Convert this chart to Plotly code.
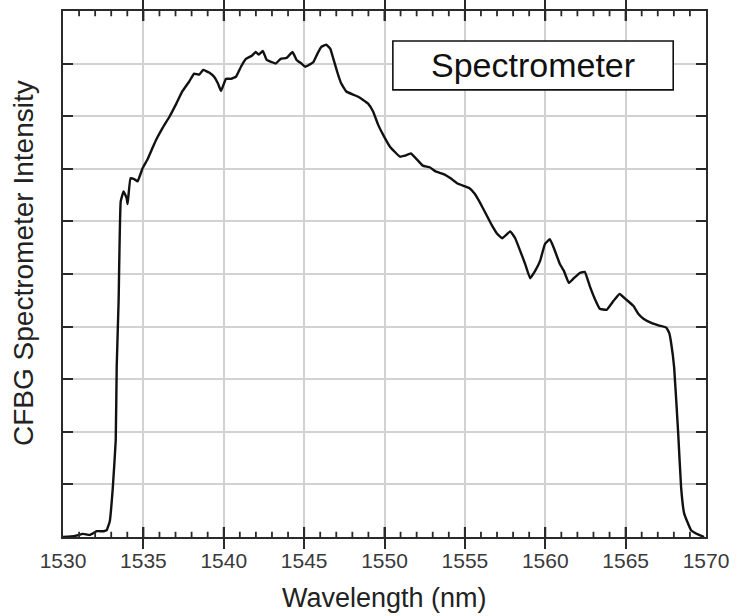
import plotly.graph_objects as go

# Spectrum traced from the chirped FBG reflection measured on the spectrometer
wavelength_nm = [
    1530.0, 1530.74, 1531.24, 1531.67, 1532.10, 1532.53, 1532.72, 1532.91, 1533.09, 1533.28,
    1533.34, 1533.46, 1533.59, 1533.77, 1533.96, 1534.02, 1534.20, 1534.45, 1534.64, 1534.95,
    1535.26, 1535.56, 1535.81, 1536.18, 1536.62, 1537.05, 1537.42, 1537.85, 1538.16, 1538.47,
    1538.72, 1539.09, 1539.40, 1539.64, 1539.83, 1540.14, 1540.45, 1540.76, 1541.07, 1541.38,
    1541.75, 1541.99, 1542.18, 1542.43, 1542.67, 1542.98, 1543.23, 1543.54, 1543.91, 1544.28,
    1544.53, 1544.84, 1545.08, 1545.33, 1545.58, 1545.83, 1546.07, 1546.38, 1546.63, 1546.82,
    1547.06, 1547.31, 1547.62, 1548.05, 1548.36, 1548.67, 1548.98, 1549.29, 1549.60, 1549.91,
    1550.34, 1550.96, 1551.27, 1551.64, 1551.95, 1552.38, 1552.81, 1553.18, 1553.74, 1554.11,
    1554.54, 1554.98, 1555.29, 1555.60, 1555.90, 1556.28, 1556.71, 1557.02, 1557.33, 1557.82,
    1558.13, 1558.44, 1558.75, 1559.06, 1559.37, 1559.68, 1559.98, 1560.29, 1560.54, 1560.91,
    1561.16, 1561.47, 1561.78, 1562.15, 1562.46, 1562.77, 1563.08, 1563.39, 1563.82, 1564.25,
    1564.62, 1565.05, 1565.49, 1565.80, 1566.11, 1566.60, 1567.09, 1567.53, 1567.71, 1567.84,
    1568.02, 1568.27, 1568.45, 1568.64, 1569.07, 1569.57, 1569.88,
]
intensity = [
    0.00, 0.02, 0.06, 0.04, 0.11, 0.11, 0.13, 0.30, 0.90, 1.84,
    3.22, 4.49, 6.38, 6.57, 6.44, 6.33, 6.82, 6.80, 6.76, 7.01,
    7.18, 7.39, 7.56, 7.77, 7.99, 8.24, 8.47, 8.66, 8.81, 8.79,
    8.88, 8.83, 8.75, 8.62, 8.48, 8.71, 8.71, 8.75, 8.94, 9.09,
    9.15, 9.22, 9.17, 9.24, 9.07, 9.03, 9.00, 9.09, 9.11, 9.22,
    9.07, 9.00, 8.94, 8.98, 9.03, 9.19, 9.32, 9.36, 9.28, 9.09,
    8.84, 8.62, 8.47, 8.41, 8.37, 8.31, 8.24, 8.09, 7.84, 7.65,
    7.42, 7.23, 7.25, 7.29, 7.20, 7.06, 7.03, 6.95, 6.89, 6.82,
    6.72, 6.67, 6.63, 6.53, 6.38, 6.16, 5.91, 5.76, 5.68, 5.81,
    5.68, 5.44, 5.19, 4.92, 5.06, 5.25, 5.57, 5.66, 5.49, 5.19,
    5.06, 4.83, 4.92, 5.02, 5.04, 4.77, 4.53, 4.34, 4.32, 4.49,
    4.62, 4.51, 4.39, 4.24, 4.15, 4.07, 4.02, 3.98, 3.88, 3.67,
    3.22, 1.97, 0.95, 0.45, 0.13, 0.04, 0.00,
]

x_ticks = [1530, 1535, 1540, 1545, 1550, 1555, 1560, 1565, 1570]
x_minor_ticks = [w for w in range(1530, 1571) if w % 5 != 0]
y_ticks = [0, 1, 2, 3, 4, 5, 6, 7, 8, 9, 10]
legend_label = "Spectrometer"
x_title = "Wavelength (nm)"
y_title = "CFBG Spectrometer Intensity"

FONT = "Liberation Sans, Arial, sans-serif"
GRID = "#d2d2d2"
FRAME = "#2a2a2a"
TICK = "#2a2a2a"
Y_MIN, Y_MAX = 0, 10

fig = go.Figure()
fig.add_trace(go.Scatter(
    x=wavelength_nm, y=intensity, mode="lines",
    line=dict(color="#111111", width=2.4, shape="spline", smoothing=0.3),
    showlegend=False,
))
# invisible companion trace carrying the right-hand tick axis
fig.add_trace(go.Scatter(
    x=[wavelength_nm[0]], y=[intensity[0]], yaxis="y2",
    mode="lines", line=dict(width=0), hoverinfo="skip", showlegend=False,
))

y_tick_style = dict(
    range=[Y_MIN, Y_MAX], tickmode="array", tickvals=y_ticks,
    ticks="inside", ticklen=10, tickwidth=2, tickcolor=FRAME,
    showticklabels=False, zeroline=False,
)

fig.update_layout(
    width=738, height=616,
    margin=dict(l=63, r=28, t=9, b=79),
    paper_bgcolor="white", plot_bgcolor="white",
    font=dict(family=FONT, color="#333333"),
    xaxis=dict(
        range=[1530, 1570], tickmode="array", tickvals=x_ticks,
        ticktext=[str(t) for t in x_ticks],
        ticks="inside", ticklen=10, tickwidth=2, tickcolor=TICK,
        ticklabelstandoff=4,
        showgrid=True, gridcolor=GRID, gridwidth=1.6,
        showline=True, linecolor=FRAME, linewidth=2, mirror="allticks",
        tickfont=dict(size=21, color="#3a3a3a"), zeroline=False,
    ),
    yaxis=dict(
        **y_tick_style,
        showgrid=True, gridcolor=GRID, gridwidth=1.6,
        showline=True, linecolor=FRAME, linewidth=2, mirror="allticks",
    ),
    yaxis2=dict(
        **y_tick_style, overlaying="y", side="right", anchor="x",
        showgrid=False, showline=False,
    ),
)

# inward wavelength tick marks along the bottom and top edges (in axis units)
def x_tick_marks(values, frac, width):
    span = (Y_MAX - Y_MIN) * frac
    for v in values:
        for base, tip in ((Y_MIN, Y_MIN + span), (Y_MAX, Y_MAX - span)):
            fig.add_shape(
                type="line", xref="x", yref="y",
                x0=v, x1=v, y0=base, y1=tip,
                line=dict(color=TICK, width=width), layer="above",
            )

x_tick_marks(x_ticks[1:-1], 0.019, 2)
x_tick_marks(x_minor_ticks, 0.010, 1.8)

# legend-style labelled box
fig.add_shape(
    type="rect", xref="paper", yref="paper",
    x0=0.513, x1=0.949, y0=0.850, y1=0.943,
    line=dict(color="#111111", width=1.6), fillcolor="white", layer="above",
)
fig.add_annotation(
    xref="paper", yref="paper", x=0.731, y=0.8965,
    text=legend_label, showarrow=False,
    font=dict(family=FONT, size=34, color="#111111"),
    xanchor="center", yanchor="middle",
)

# axis titles
fig.add_annotation(
    xref="paper", yref="paper", x=0.5, y=0, yshift=-61,
    text=x_title, showarrow=False,
    font=dict(family=FONT, size=27, color="#222222"),
    xanchor="center", yanchor="middle",
)
fig.add_annotation(
    xref="paper", yref="paper", x=0, xshift=-39, y=0.521,
    text=y_title, showarrow=False, textangle=-90,
    font=dict(family=FONT, size=28, color="#222222"),
    xanchor="center", yanchor="middle",
)

fig.write_html("out.html")
